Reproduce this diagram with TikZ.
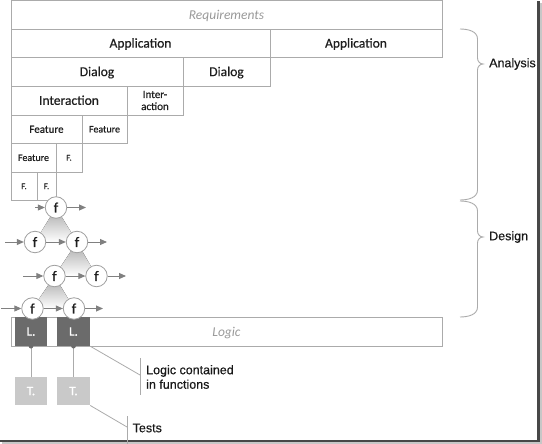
\documentclass[tikz,border=0pt]{standalone}
\usepackage{fontspec}
\setmainfont{Carlito}[BoldFont=Carlito, BoldFeatures={FakeBold=0.6}, BoldItalicFont=Carlito Italic, BoldItalicFeatures={FakeBold=0.4}]
\newfontfamily\arialf{Liberation Sans}[BoldFont=Liberation Sans, BoldFeatures={FakeBold=0.5}]
\usetikzlibrary{arrows.meta,shadings}
\definecolor{lgray}{HTML}{ABABAB}
\definecolor{tdark}{HTML}{1E1E1E}
\definecolor{tital}{HTML}{999999}
\definecolor{lfill}{HTML}{6B6B6B}
\definecolor{tfill}{HTML}{C9C9C9}
\definecolor{agray}{HTML}{808080}
\definecolor{cgray}{HTML}{A0A0A0}
\tikzset{
  cell/.style={draw=lgray, line width=0.8pt, inner sep=0pt, outer sep=0pt, text=tdark, align=center, font=\fontsize{13.5}{15}\selectfont\bfseries, text height=8.7pt, text depth=0pt},
  small/.style={font=\fontsize{11}{12.5}\selectfont\bfseries, text height=7.1pt},
  tiny/.style={font=\fontsize{10}{11}\selectfont\bfseries, text height=6.4pt},
  tinier/.style={font=\fontsize{9}{10}\selectfont\bfseries, text height=5.8pt},
  ital/.style={text=tital, font=\fontsize{13.5}{15}\selectfont\itshape},
  fn/.style={circle, draw=cgray, fill=white, line width=0.8pt, minimum size=21.5pt, inner sep=0pt, font=\fontsize{14.5}{15}\selectfont\bfseries, text=tdark},
  flow/.style={draw=agray, line width=0.9pt, -{Triangle[length=7pt,width=6pt]}},
  tri/.style={top color=gray!70, bottom color=white, draw=none},
  lbox/.style={fill=lfill, draw=none, inner sep=0pt, text=white, font=\fontsize{13}{14}\selectfont\bfseries, text height=8.4pt, text depth=0pt},
  tbox/.style={fill=tfill, draw=none, inner sep=0pt, text=white, font=\fontsize{13}{14}\selectfont\bfseries, text height=8.4pt, text depth=0pt},
  link/.style={draw=lgray, line width=0.8pt},
  brc/.style={draw=lgray, line width=0.9pt},
  lbl/.style={font=\arialf\fontsize{12.5}{14.5}\selectfont\bfseries, text=black!90, anchor=west, inner sep=0pt, align=left},
}
\begin{document}
\begin{tikzpicture}[x=1pt,y=-1pt]
\useasboundingbox (0,0) rectangle (542,444);
% shadow
\fill[black!22] (540,3) rectangle (542,444);
\fill[black!22] (2,442) rectangle (542,444);
\fill[black!72] (537,1) rectangle (540,442);
\fill[black!72] (0,439.5) rectangle (540,442);
% cells
\node[cell, ital, minimum width=431pt, minimum height=28.5pt] (req) at (226.5,14.75) {Requirements};
\node[cell, minimum width=259pt, minimum height=28.5pt] (app1) at (140.5,43.25) {Application};
\node[cell, minimum width=172pt, minimum height=28.5pt] (app2) at (356,43.25) {Application};
\node[cell, minimum width=172pt, minimum height=28.5pt] (dia1) at (97,71.75) {Dialog};
\node[cell, minimum width=87pt, minimum height=28.5pt] (dia2) at (226.5,71.75) {Dialog};
\node[cell, minimum width=116pt, minimum height=29pt] (int1) at (69,100.5) {Interaction};
\node[cell, font=\fontsize{11}{12}\selectfont\bfseries, minimum width=56pt, minimum height=29pt, text height=19pt, text depth=0pt] (int2) at (155,100.5) {Inter-\\action};
\node[cell, small, minimum width=71pt, minimum height=28.5pt] (fea1) at (46.5,129.25) {Feature};
\node[cell, tiny, minimum width=45pt, minimum height=28.5pt] (fea2) at (104.5,129.25) {Feature};
\node[cell, tiny, minimum width=45pt, minimum height=28.5pt] (fea3) at (33.5,157.75) {Feature};
\node[cell, tinier, minimum width=26pt, minimum height=28.5pt] (fea4) at (69,157.75) {F.};
\node[cell, tinier, minimum width=26pt, minimum height=28.5pt] (fea5) at (24,186.25) {F.};
\node[cell, tinier, minimum width=19pt, minimum height=28.5pt] (fea6) at (46.5,186.25) {F.};
% shaded triangles
\fill[tri] (56,207.5) -- (35,242) -- (77,242) -- cycle;
\fill[tri] (77,242) -- (54.5,276) -- (96.5,276) -- cycle;
\fill[tri] (54.5,276) -- (32.5,308.5) -- (74,308.5) -- cycle;
% logic box
\node[cell, ital, minimum width=431pt, minimum height=28.5pt] (logic) at (226.5,331.75) {Logic};
\node[lbox, minimum width=32pt, minimum height=29pt] (l1) at (31,331.5) {L.};
\node[lbox, minimum width=33pt, minimum height=29pt] (l2) at (73.5,331.5) {L.};
\node[tbox, minimum width=32pt, minimum height=28.5pt] (t1) at (31,391) {T.};
\node[tbox, minimum width=33pt, minimum height=28.5pt] (t2) at (73.5,391) {T.};
% functions
\node[fn] (f1) at (56,207.5) {f};
\node[fn] (f2) at (35,242) {f};
\node[fn] (f3) at (77,242) {f};
\node[fn] (f4) at (54.5,276) {f};
\node[fn] (f5) at (96.5,276) {f};
\node[fn] (f6) at (32.5,308.5) {f};
\node[fn] (f7) at (74,308.5) {f};
\coordinate (i1) at (35,207.5); \coordinate (o1) at (86,207.5);
\coordinate (i2) at (5,242); \coordinate (o3) at (107,242);
\coordinate (i4) at (23,276); \coordinate (o5) at (126,276);
\coordinate (i6) at (1,308.5); \coordinate (o7) at (103,308.5);
\draw[flow] (i1) -- (f1); \draw[flow] (f1) -- (o1);
\draw[flow] (i2) -- (f2); \draw[flow] (f2) -- (f3); \draw[flow] (f3) -- (o3);
\draw[flow] (i4) -- (f4); \draw[flow] (f4) -- (f5); \draw[flow] (f5) -- (o5);
\draw[flow] (i6) -- (f6); \draw[flow] (f6) -- (f7); \draw[flow] (f7) -- (o7);
% L to T links
\draw[link] (l1.south) -- (t1.north);
\draw[link] (l2.south) -- (t2.north);
\fill[lfill] (l1.south) circle (2.3pt);
\fill[lfill] (l2.south) circle (2.3pt);
% callouts
\coordinate (c1) at (140,375); \coordinate (c1a) at (140,358); \coordinate (c1b) at (140,395);
\draw[link] (l2.south east) -- (c1);
\draw[link] (c1a) -- (c1b);
\node[lbl] (lc) at (146,377) {Logic contained\\in functions};
\coordinate (c2) at (127,427); \coordinate (c2a) at (127,416); \coordinate (c2b) at (127,444);
\draw[link] (t2.south east) -- (c2);
\draw[link] (c2a) -- (c2b);
\node[lbl] (tests) at (132.5,428) {Tests};
% braces
\draw[brc] (460,29) to[out=0,in=90] (477.5,39) -- (477.5,58) to[out=-90,in=180] (483,64)
  to[out=180,in=90] (477.5,70) -- (477.5,190) to[out=-90,in=0] (460,200);
\draw[brc] (460,201) to[out=0,in=90] (477.5,211) -- (477.5,231) to[out=-90,in=180] (483,237)
  to[out=180,in=90] (477.5,243) -- (477.5,307) to[out=-90,in=0] (460,317);
\node[lbl] (ana) at (489,64) {Analysis};
\node[lbl] (des) at (489,237) {Design};
\end{tikzpicture}
\end{document}
